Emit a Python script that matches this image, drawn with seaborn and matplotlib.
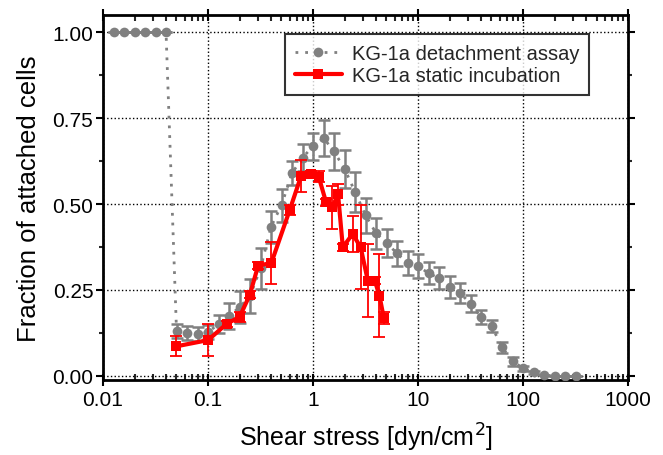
import matplotlib
matplotlib.use("Agg")
import matplotlib.pyplot as plt
import matplotlib.ticker as mticker
import numpy as np
import pandas as pd
import seaborn as sns

# detachment assay (grey), shear stress at 0.1-decade steps
assay_x = [0.0126, 0.0158, 0.02, 0.0251, 0.0316, 0.0398,
           0.0501, 0.0631, 0.0794, 0.1, 0.126, 0.158, 0.2, 0.251, 0.316, 0.398,
           0.501, 0.631, 0.794, 1.0, 1.26, 1.58, 2.0, 2.51, 3.16, 3.98, 5.01,
           6.31, 7.94, 10.0, 12.6, 15.8, 20.0, 25.1, 31.6, 39.8, 50.1, 63.1,
           79.4, 100.0, 126.0, 158.0, 200.0, 251.0, 316.0]
assay_y = [1.0, 1.0, 1.0, 1.0, 1.0, 1.0,
           0.130, 0.124, 0.121, 0.127, 0.151, 0.174, 0.200, 0.232, 0.313, 0.434,
           0.497, 0.590, 0.635, 0.668, 0.692, 0.653, 0.602, 0.535, 0.467, 0.415, 0.387,
           0.356, 0.328, 0.320, 0.298, 0.285, 0.259, 0.241, 0.210, 0.171, 0.145, 0.083,
           0.043, 0.022, 0.010, 0.003, 0.001, 0.0, 0.0]
assay_err = [0, 0, 0, 0, 0, 0,
             0.02, 0.02, 0.02, 0.02, 0.025, 0.038, 0.047, 0.05, 0.06, 0.047,
             0.048, 0.035, 0.04, 0.039, 0.052, 0.054, 0.054, 0.059, 0.05, 0.045, 0.04,
             0.037, 0.035, 0.034, 0.032, 0.032, 0.032, 0.029, 0.024, 0.021, 0.017, 0.016,
             0.013, 0.007, 0.004, 0.0, 0.0, 0.0, 0.0]

# static incubation (red)
static_x = [0.05, 0.1, 0.15, 0.2, 0.25, 0.3, 0.4, 0.6, 0.77, 0.95,
            1.13, 1.33, 1.52, 1.73, 1.92, 2.38, 2.84, 3.32, 3.87, 4.29, 4.71]
static_y = [0.086, 0.104, 0.151, 0.172, 0.236, 0.321, 0.328, 0.483, 0.582, 0.586,
            0.580, 0.505, 0.490, 0.528, 0.374, 0.413, 0.374, 0.277, 0.277, 0.233, 0.169]
static_err = [0.029, 0.046, 0.01, 0.015, 0.01, 0.01, 0.062, 0.015, 0.046, 0.01,
              0.017, 0.01, 0.062, 0.03, 0.01, 0.053, 0.122, 0.107, 0.01, 0.121, 0.017]

assay = pd.DataFrame({"x": assay_x, "y": assay_y, "err": assay_err})
static = pd.DataFrame({"x": static_x, "y": static_y, "err": static_err})

sns.set_theme(style="white")
plt.rcParams['font.family'] = ['Liberation Sans', 'DejaVu Sans']

fig = plt.figure(figsize=(6.63, 4.56), dpi=100)
ax = fig.add_axes([0.1554, 0.1645, 0.792, 0.8005])

grey = "#808080"
red = "#ff0000"

ax.errorbar(assay["x"], assay["y"], yerr=assay["err"], fmt="none",
            ecolor=grey, elinewidth=1.8, capsize=4.5, capthick=1.8, zorder=2)
sns.lineplot(data=assay, x="x", y="y", ax=ax, color=grey, linestyle=(0, (1, 2.5)),
             linewidth=2, marker="o", markersize=7, markeredgewidth=0,
             label="KG-1a detachment assay", zorder=3)
ax.errorbar(static["x"], static["y"], yerr=static["err"], fmt="none",
            ecolor=red, elinewidth=1.3, capsize=4, capthick=1.3, zorder=4)
sns.lineplot(data=static, x="x", y="y", ax=ax, color=red, linewidth=3,
             marker="s", markersize=6.5, markeredgewidth=0,
             label="KG-1a static incubation", zorder=5)

ax.set_xscale("log")
ax.set_xlim(0.01, 1000)
ax.set_ylim(-0.012, 1.05)
ax.xaxis.set_major_locator(mticker.LogLocator(base=10, numticks=10))
ax.xaxis.set_major_formatter(mticker.FuncFormatter(lambda v, p: f"{v:g}"))
ax.xaxis.set_minor_locator(mticker.LogLocator(base=10, subs=np.arange(2, 10), numticks=20))
ax.xaxis.set_minor_formatter(mticker.NullFormatter())
ax.set_yticks([0, 0.25, 0.5, 0.75, 1.0])
ax.yaxis.set_major_formatter(mticker.FormatStrFormatter("%.2f"))
ax.yaxis.set_minor_locator(mticker.MultipleLocator(0.125))

ax.grid(True, which="major", color="black", linestyle=":", linewidth=1)
for s in ax.spines.values():
    s.set_color("black")
    s.set_linewidth(2)

ax.tick_params(axis="both", which="major", labelsize=15, colors="black", width=1.5)
ax.tick_params(axis="y", which="major", direction="out", length=5, pad=2, left=True, right=True)
ax.tick_params(axis="y", which="minor", direction="out", length=3, width=1.5, left=True, right=True)
ax.tick_params(axis="x", which="major", direction="inout", length=8, pad=3, bottom=True, top=True)
ax.tick_params(axis="x", which="minor", direction="in", length=4, width=1.5, bottom=True, top=True)

ax.set_xlabel("Shear stress [dyn/cm$^2$]", fontsize=18, color="black", labelpad=9)
ax.set_ylabel("Fraction of attached cells", fontsize=18.5, color="black", labelpad=8)

leg = ax.legend(loc="upper right", bbox_to_anchor=(0.945, 0.975), fontsize=14.5,
                frameon=True, fancybox=False, edgecolor="black",
                handlelength=2.3, borderpad=0.5, labelspacing=0.15,
                handletextpad=0.5)
leg.get_frame().set_linewidth(1.5)

fig.savefig("out.png", dpi=100)
